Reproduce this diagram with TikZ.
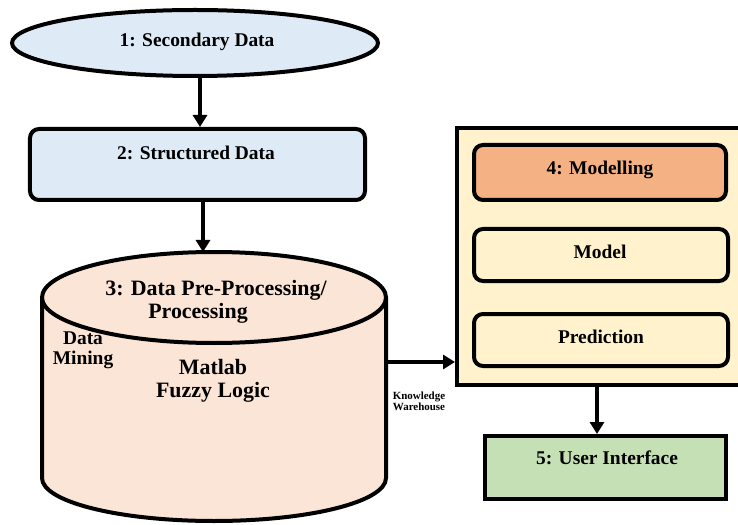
\documentclass[tikz,border=0pt]{standalone}
\usepackage{fontspec}
\setmainfont{Liberation Serif}
\usetikzlibrary{shapes.geometric,arrows.meta}
\definecolor{blueF}{HTML}{DEEBF7}
\definecolor{peachF}{HTML}{FBE5D6}
\definecolor{yellowF}{HTML}{FFF2CC}
\definecolor{orangeF}{HTML}{F4B183}
\definecolor{greenF}{HTML}{C5E0B4}
\tikzset{
  lw/.style={line width=4bp},
  txt/.style={font=\fontsize{19.5}{22}\selectfont\bfseries, inner sep=0pt},
  bigtxt/.style={font=\fontsize{22}{25}\selectfont\bfseries, inner sep=0pt},
  smalltxt/.style={font=\fontsize{11}{13}\selectfont\bfseries, inner sep=0pt, align=center},
  ellbox/.style={lw, draw, ellipse, fill=blueF, inner sep=0pt},
  rbox/.style={lw, draw, rectangle, rounded corners=9bp, inner sep=0pt},
  sbox/.style={lw, draw, rectangle, inner sep=0pt},
  arr/.style={lw, -{Triangle[length=12bp,width=14bp]}}
}
\begin{document}
\begin{tikzpicture}[x=1bp,y=-1bp]
\useasboundingbox (0,0) rectangle (738,525);
\clip (0,0) rectangle (738,525);

% 1: ellipse
\node[ellbox, minimum width=366bp, minimum height=66bp] (b1) at (195,43) {};
\node[txt] (t1) at (197,42) {1: Secondary Data};

% 2: structured data
\node[rbox, fill=blueF, minimum width=335bp, minimum height=71bp] (b2) at (197.5,164.5) {};
\node[txt] (t2) at (196,153) {2: Structured Data};

% 3: cylinder
\fill[peachF] (42,297.5) -- (42,478) arc[start angle=180,end angle=0,x radius=172,y radius=43] -- (386,297.5) -- cycle;
\draw[lw] (42,297.5) -- (42,478) arc[start angle=180,end angle=0,x radius=172,y radius=43] -- (386,297.5);
\draw[lw, fill=peachF] (214,297.5) ellipse[x radius=172, y radius=45.5];
\coordinate (cyltop) at (203,252);
\coordinate (cylR) at (386,362);
\node[bigtxt] (t3a) at (216,290) {3: Data Pre-Processing/};
\node[bigtxt] (t3b) at (198,313) {Processing};
\node[txt] (t3c) at (83,338) {Data};
\node[txt] (t3d) at (83,360) {Mining};
\node[bigtxt] (t3e) at (213,367) {Matlab};
\node[bigtxt] (t3f) at (213,392) {Fuzzy Logic};

% knowledge warehouse label
\node[smalltxt] (kw) at (419,401) {Knowledge\\[-2bp]Warehouse};

% 4: big box
\node[sbox, fill=yellowF, minimum width=320bp, minimum height=257bp] (bb) at (617,256.5) {};
\node[rbox, fill=orangeF, minimum width=252bp, minimum height=55bp] (b4) at (600,172.5) {};
\node[txt] (t4) at (600,170) {4: Modelling};
\node[rbox, fill=yellowF, minimum width=254bp, minimum height=52bp] (b4a) at (601,255) {};
\node[txt] (t4a) at (600,252) {Model};
\node[rbox, fill=yellowF, minimum width=254bp, minimum height=52bp] (b4b) at (601,340) {};
\node[txt] (t4b) at (601,337) {Prediction};

% 5: user interface
\node[sbox, fill=greenF, minimum width=241bp, minimum height=63bp] (b5) at (605.5,467.5) {};
\node[txt] (t5) at (607,458) {5: User Interface};

% arrows
\draw[arr] ([xshift=5bp]b1.south) -- ([xshift=5bp]b1.south |- b2.north);
\draw[arr] (b2.south -| cyltop) -- (cyltop);
\draw[arr] (cylR) -- (bb.west |- cylR);
\coordinate (bbout) at (597,385);
\draw[arr] (bb.south -| bbout) -- (b5.north -| bbout);
\end{tikzpicture}
\end{document}
